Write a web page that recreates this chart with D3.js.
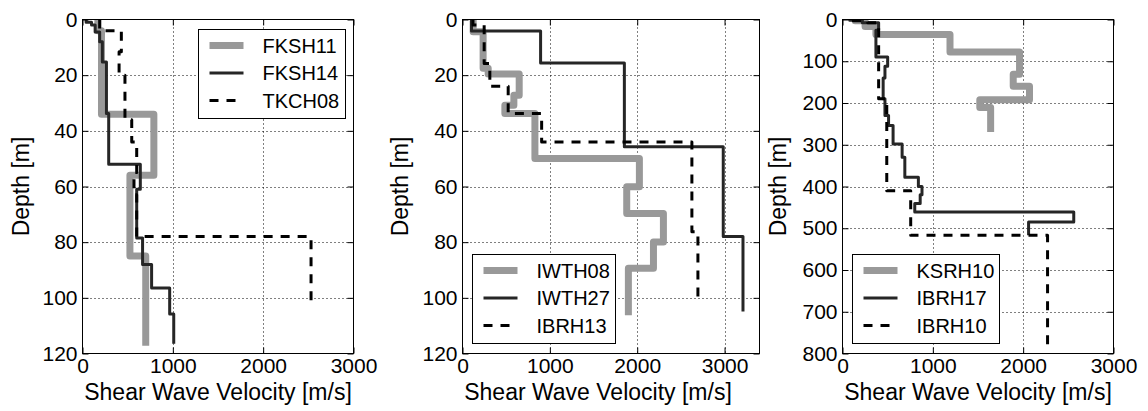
<!DOCTYPE html>
<html><head><meta charset="utf-8">
<script src="https://cdn.jsdelivr.net/npm/d3@7"></script>
<style>
body{margin:0;background:#fff}
svg{display:block}
text{font-family:"Liberation Sans",Arial,Helvetica,sans-serif;fill:#000}
</style>
</head><body>
<svg id="chart" width="1148" height="411"></svg>
<script>
// ---------- data ----------
const xTickValues = [0, 1000, 2000, 3000];
const depthTicksShallow = [0, 20, 40, 60, 80, 100, 120];
const depthTicksDeep = [0, 100, 200, 300, 400, 500, 600, 700, 800];

// Panel 1 (layer boundaries in m, Vs in m/s per layer)
const FKSH11_depth = [0, 4, 34, 56, 85, 116];
const FKSH11_vs    = [170, 210, 790, 525, 700];
const FKSH14_depth = [0, 1, 2, 4.5, 8, 15.3, 33.8, 52, 61, 78.5, 88, 96.5, 105.8, 116];
const FKSH14_vs    = [40, 100, 140, 190, 220, 265, 290, 640, 600, 665, 765, 965, 1010];
const TKCH08_depth = [0, 4, 11.6, 20, 36, 44, 55, 63, 78, 103];
const TKCH08_vs    = [190, 430, 405, 470, 545, 600, 570, 600, 2530];

// Panel 2
const IWTH08_depth = [0, 4.4, 17.5, 19.6, 27.2, 30.8, 33.8, 49.9, 60.1, 69.7, 79.9, 89.4, 105];
const IWTH08_vs    = [122, 236, 294, 649, 588, 485, 829, 2025, 1880, 2300, 2186, 1899];
const IWTH27_depth = [0, 4.1, 15.6, 45.7, 78, 104.4];
const IWTH27_vs    = [103, 894, 1853, 2985, 3211];
const IBRH13_depth = [0, 2, 15.8, 24, 33.8, 44, 76.3, 100.2];
const IBRH13_vs    = [120, 248, 313, 523, 906, 2626, 2695];

// Panel 3
const KSRH10_depth = [0, 3, 17, 36, 78, 131, 160, 192, 211, 261];
const KSRH10_vs    = [140, 250, 370, 1190, 1960, 1890, 2070, 1520, 1640];
const IBRH17_depth = [0, 2, 8, 26, 90, 112, 140, 190, 230, 254, 298, 330, 378, 400, 420, 441, 461, 485, 513];
const IBRH17_vs    = [80, 220, 400, 370, 500, 470, 450, 470, 510, 560, 660, 690, 840, 880, 860, 800, 2560, 2060];
const IBRH10_depth = [0, 3, 8, 190, 410, 517, 795];
const IBRH10_vs    = [120, 280, 400, 490, 755, 2270];

// ---------- styles ----------
const styles = {
  gray:   {stroke: "#999999", width: 7,   dash: null},
  solid:  {stroke: "#262626", width: 3,   dash: null},
  dashed: {stroke: "#000000", width: 3,   dash: "9,8"}
};

const panels = [
  {left: 82.5, right: 353.5, top: 19.5, bottom: 353.5, xMax: 3000, yMax: 120, yTicks: depthTicksShallow, ylabX: 29, xlabShift: 0,
   series: [
     {name: "FKSH11", depth: FKSH11_depth, vs: FKSH11_vs, style: "gray"},
     {name: "FKSH14", depth: FKSH14_depth, vs: FKSH14_vs, style: "solid"},
     {name: "TKCH08", depth: TKCH08_depth, vs: TKCH08_vs, style: "dashed"}],
   legend: {x: 198.5, y: 29.5, w: 147, h: 89}},
  {left: 462.5, right: 759.5, top: 19.5, bottom: 353.5, xMax: 3400, yMax: 120, yTicks: depthTicksShallow, ylabX: 408, xlabShift: -13,
   series: [
     {name: "IWTH08", depth: IWTH08_depth, vs: IWTH08_vs, style: "gray"},
     {name: "IWTH27", depth: IWTH27_depth, vs: IWTH27_vs, style: "solid"},
     {name: "IBRH13", depth: IBRH13_depth, vs: IBRH13_vs, style: "dashed"}],
   legend: {x: 472.5, y: 254.5, w: 143, h: 89}},
  {left: 842.5, right: 1113.5, top: 19.5, bottom: 353.5, xMax: 3000, yMax: 800, yTicks: depthTicksDeep, ylabX: 786, xlabShift: 0,
   series: [
     {name: "KSRH10", depth: KSRH10_depth, vs: KSRH10_vs, style: "gray"},
     {name: "IBRH17", depth: IBRH17_depth, vs: IBRH17_vs, style: "solid"},
     {name: "IBRH10", depth: IBRH10_depth, vs: IBRH10_vs, style: "dashed"}],
   legend: {x: 852.5, y: 254.5, w: 147, h: 89}}
];

const svg = d3.select("#chart");
const tickLen = 6;

function stepPoints(depth, vs) {
  const pts = [];
  for (let i = 0; i < vs.length; i++) {
    pts.push([vs[i], depth[i]]);
    pts.push([vs[i], depth[i + 1]]);
  }
  return pts;
}

panels.forEach((p, pi) => {
  const x = d3.scaleLinear().domain([0, p.xMax]).range([p.left, p.right]);
  const y = d3.scaleLinear().domain([0, p.yMax]).range([p.top, p.bottom]);
  const g = svg.append("g");

  const clipId = "clip" + pi;
  svg.append("clipPath").attr("id", clipId).append("rect")
    .attr("x", p.left).attr("y", p.top).attr("width", p.right - p.left).attr("height", p.bottom - p.top);

  // grid
  const grid = g.append("g");
  xTickValues.filter(v => v > 0 && v < p.xMax).forEach(v => {
    grid.append("line").attr("x1", Math.round(x(v)) + 0.5).attr("x2", Math.round(x(v)) + 0.5)
      .attr("y1", p.top).attr("y2", p.bottom)
      .attr("stroke", "#000").attr("stroke-width", 1).attr("stroke-dasharray", "1,3");
  });
  p.yTicks.filter(v => v > 0 && v < p.yMax).forEach(v => {
    grid.append("line").attr("y1", Math.round(y(v)) + 0.5).attr("y2", Math.round(y(v)) + 0.5)
      .attr("x1", p.left).attr("x2", p.right)
      .attr("stroke", "#000").attr("stroke-width", 1).attr("stroke-dasharray", "1,3");
  });

  // series
  const line = d3.line().x(d => x(d[0])).y(d => y(d[1]));
  const sg = g.append("g").attr("clip-path", `url(#${clipId})`);
  p.series.forEach(s => {
    const st = styles[s.style];
    sg.append("path").datum(stepPoints(s.depth, s.vs))
      .attr("d", line).attr("fill", "none")
      .attr("stroke", st.stroke).attr("stroke-width", st.width)
      .attr("stroke-linejoin", "round")
      .attr("stroke-linecap", st.dash ? "butt" : "square")
      .attr("stroke-dasharray", st.dash);
  });

  // axes (ticks inward on all sides)
  const axB = d3.axisBottom(x).tickValues(xTickValues).tickSize(-tickLen).tickPadding(5).tickFormat(d3.format("d"));
  const axT = d3.axisTop(x).tickValues(xTickValues).tickSize(-tickLen).tickFormat("");
  const axL = d3.axisLeft(y).tickValues(p.yTicks).tickSize(-tickLen).tickPadding(5).tickFormat(d3.format("d"));
  const axR = d3.axisRight(y).tickValues(p.yTicks).tickSize(-tickLen).tickFormat("");
  const styleAxis = sel => {
    sel.select(".domain").remove();
    sel.selectAll(".tick line").attr("stroke", "#000").attr("stroke-width", 1);
    sel.selectAll(".tick text").attr("font-size", 21).attr("font-family", "Liberation Sans, Arial, sans-serif").attr("fill", "#000");
  };
  g.append("g").attr("transform", `translate(0,${p.bottom})`).call(axB).call(styleAxis);
  g.append("g").attr("transform", `translate(0,${p.top})`).call(axT).call(styleAxis);
  g.append("g").attr("transform", `translate(${p.left},0)`).call(axL).call(styleAxis);
  g.append("g").attr("transform", `translate(${p.right},0)`).call(axR).call(styleAxis);

  // frame
  g.append("rect").attr("x", p.left).attr("y", p.top)
    .attr("width", p.right - p.left).attr("height", p.bottom - p.top)
    .attr("fill", "none").attr("stroke", "#000").attr("stroke-width", 1);

  // axis labels
  g.append("text").attr("x", (p.left + p.right) / 2 + p.xlabShift).attr("y", 400)
    .attr("text-anchor", "middle").attr("font-size", 23).text("Shear Wave Velocity [m/s]");
  g.append("text").attr("transform", `translate(${p.ylabX},${(p.top + p.bottom) / 2}) rotate(-90)`)
    .attr("text-anchor", "middle").attr("font-size", 23).text("Depth [m]");

  // legend
  const L = p.legend;
  const lg = g.append("g");
  lg.append("rect").attr("x", L.x).attr("y", L.y).attr("width", L.w).attr("height", L.h)
    .attr("fill", "#fff").attr("stroke", "#000").attr("stroke-width", 1);
  p.series.forEach((s, i) => {
    const st = styles[s.style];
    const cy = L.y + 16 + i * 27.5;
    lg.append("line").attr("x1", L.x + 11).attr("x2", L.x + 45).attr("y1", cy).attr("y2", cy)
      .attr("stroke", st.stroke).attr("stroke-width", st.width).attr("stroke-dasharray", st.dash)
      .attr("stroke-linecap", "butt");
    lg.append("text").attr("x", L.x + 64).attr("y", cy).attr("dy", "0.36em")
      .attr("font-size", 20).text(s.name);
  });
});
</script>
</body></html>
